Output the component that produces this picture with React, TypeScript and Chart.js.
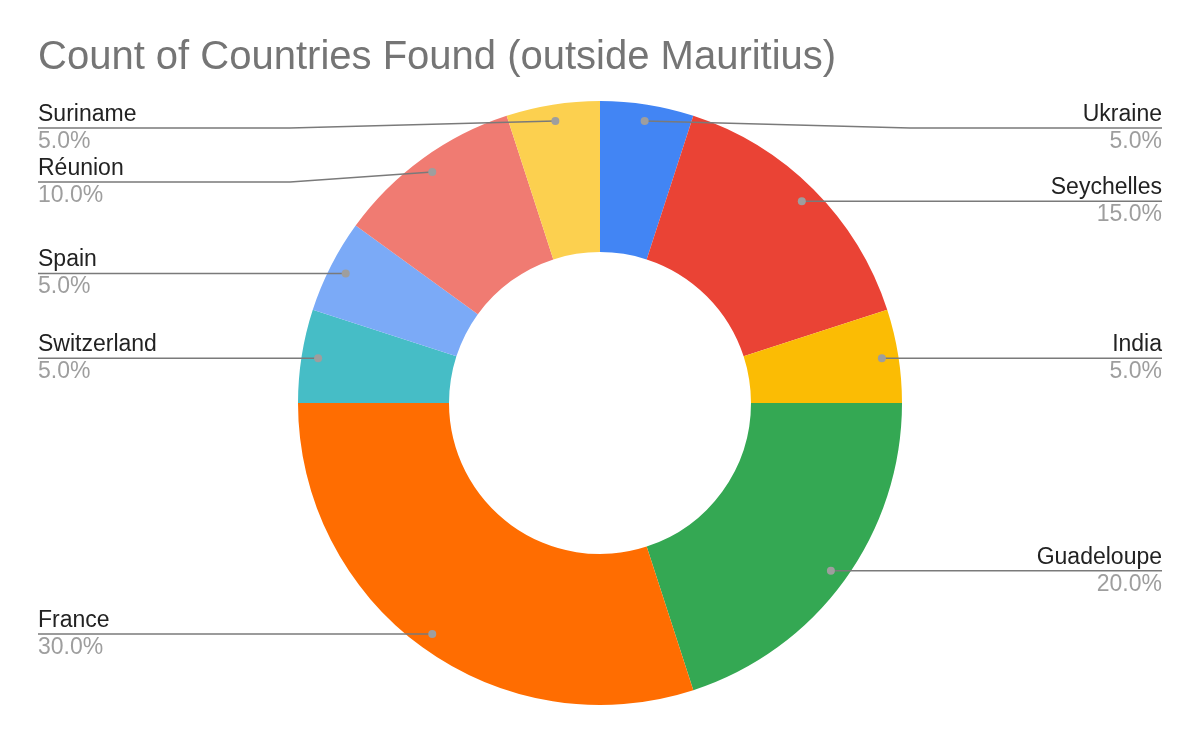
import React, { useEffect, useRef } from "react";
import { Chart, registerables } from "chart.js";

Chart.register(...registerables);

const title = "Count of Countries Found (outside Mauritius)";
const countries = ["Ukraine", "Seychelles", "India", "Guadeloupe", "France", "Switzerland", "Spain", "Réunion", "Suriname"];
const counts = [1, 3, 1, 4, 6, 1, 1, 2, 1];
const colors = ["#4285F4", "#EA4335", "#FBBC04", "#34A853", "#FF6D01", "#46BDC6", "#7BAAF7", "#F07B72", "#FCD04F"];

const FONT = '"Liberation Sans", Arial, sans-serif';

const labelPlugin = {
  id: "leaderLabels",
  afterDraw(chart: any) {
    const ctx = chart.ctx as CanvasRenderingContext2D;
    const meta = chart.getDatasetMeta(0);
    const data = chart.data.datasets[0].data as number[];
    const total = data.reduce((a, b) => a + b, 0);
    const W = chart.width;

    ctx.save();
    // title
    ctx.fillStyle = "#757575";
    ctx.font = `40px ${FONT}`;
    ctx.textAlign = "left";
    ctx.textBaseline = "alphabetic";
    ctx.fillText(title, 38, 69);

    const items: any[] = [];
    meta.data.forEach((arc: any, i: number) => {
      const p = arc.getProps(["x", "y", "startAngle", "endAngle", "outerRadius"], true);
      const mid = (p.startAngle + p.endAngle) / 2;
      const r = p.outerRadius * 0.945;
      const dx = p.x + Math.cos(mid) * r;
      const dy = p.y + Math.sin(mid) * r;
      items.push({ i, dx, dy, right: Math.cos(mid) >= 0, ly: dy });
    });

    const minY = 128;
    const gap = 54;
    [true, false].forEach((side) => {
      const arr = items.filter((it) => it.right === side).sort((a, b) => a.dy - b.dy);
      let prev = -Infinity;
      arr.forEach((it) => {
        let y = Math.max(it.dy, minY, prev + gap);
        it.ly = y;
        prev = y;
      });
    });

    const leftX = 38;
    const rightX = W - 38;
    items.forEach((it) => {
      const elbowX = it.right ? 910 : 290;
      const endX = it.right ? rightX : leftX;
      ctx.strokeStyle = "#7a7a7a";
      ctx.lineWidth = 1.5;
      ctx.beginPath();
      ctx.moveTo(it.dx, it.dy);
      if (Math.abs(it.ly - it.dy) > 0.5) {
        ctx.lineTo(elbowX, it.ly);
      }
      ctx.lineTo(endX, it.ly);
      ctx.stroke();

      ctx.fillStyle = "#9e9e9e";
      ctx.beginPath();
      ctx.arc(it.dx, it.dy, 4, 0, Math.PI * 2);
      ctx.fill();

      ctx.textAlign = it.right ? "right" : "left";
      ctx.font = `23px ${FONT}`;
      ctx.fillStyle = "#222222";
      ctx.fillText(countries[it.i], endX, it.ly - 7);
      ctx.fillStyle = "#9e9e9e";
      const pct = ((data[it.i] / total) * 100).toFixed(1) + "%";
      ctx.fillText(pct, endX, it.ly + 20);
    });
    ctx.restore();
  },
};

export default function App() {
  const ref = useRef<HTMLCanvasElement | null>(null);
  useEffect(() => {
    if (!ref.current) return;
    const chart = new Chart(ref.current, {
      type: "doughnut",
      data: {
        labels: countries,
        datasets: [
          {
            data: counts,
            backgroundColor: colors,
            borderWidth: 0,
          },
        ],
      },
      options: {
        animation: false,
        responsive: false,
        maintainAspectRatio: false,
        cutout: "50%",
        layout: { padding: { top: 101, bottom: 36, left: 0, right: 0 } },
        plugins: {
          legend: { display: false },
          tooltip: { enabled: false },
          title: { display: false },
        },
      },
      plugins: [labelPlugin],
    });
    return () => chart.destroy();
  }, []);
  return (
    <div style={{ position: "fixed", left: 0, top: 0, width: 1200, height: 741, background: "#fff" }}>
      <canvas ref={ref} width={1200} height={741} style={{ width: 1200, height: 741 }} />
    </div>
  );
}
